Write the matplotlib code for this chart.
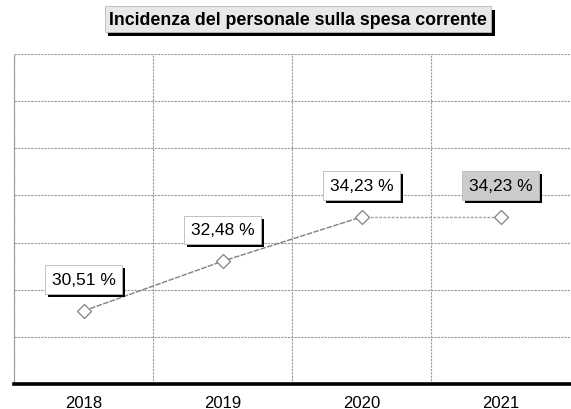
import matplotlib
matplotlib.use("Agg")
import matplotlib.pyplot as plt
import matplotlib.patheffects as pe
import numpy as np

plt.rcParams['font.family'] = ['Liberation Sans', 'DejaVu Sans']

# Dati
anni = ['2018', '2019', '2020', '2021']
incidenza = [30.51, 32.48, 34.23, 34.23]
etichette = ['30,51 %', '32,48 %', '34,23 %', '34,23 %']
titolo = 'Incidenza del personale sulla spesa corrente'

fig = plt.figure(figsize=(5.71, 4.10), dpi=100)
ax = fig.add_axes([14 / 571, 1 - 385 / 410, 556 / 571, 330 / 410])

x = np.arange(len(anni))
ymin, ymax = 27.62, 40.68
ax.set_xlim(-0.5, len(anni) - 0.5)
ax.set_ylim(ymin, ymax)

# Griglia
grid_style = dict(color='#9a9a9a', lw=0.8, ls=(0, (2, 1)))
for yv in np.linspace(ymin, ymax, 8)[1:]:
    ax.axhline(yv, **grid_style, zorder=1)
for xv in np.arange(-0.5, len(anni) - 0.5, 1.0):
    ax.axvline(xv, **grid_style, zorder=1)

# Serie
ax.plot(x[:3], incidenza[:3], color='#808080', lw=1.0, ls=(0, (4, 1)), zorder=2)
ax.plot(x[2:], incidenza[2:], color='#a0a0a0', lw=1.0, ls=(0, (2, 1)), zorder=2)
ax.plot(x, incidenza, ls='none', marker='D', ms=7, mfc='white',
        mec='#808080', mew=0.9, zorder=3)

shadow = [pe.SimplePatchShadow(offset=(2.2, -2.2), shadow_rgbFace='black', alpha=1.0),
          pe.Normal()]

# Etichette dei valori con ombra
for i, (xi, yi, lab) in enumerate(zip(x, incidenza, etichette)):
    face = '#cccccc' if i == 3 else 'white'
    t = ax.annotate(lab, (xi, yi), xytext=(0, 22.5), textcoords='offset points',
                    ha='center', va='center', fontsize=12.5, color='black',
                    bbox=dict(boxstyle='square,pad=0.4', fc=face, ec='#b8b8b8', lw=0.6),
                    zorder=5)
    t.get_bbox_patch().set_path_effects(shadow)

# Assi
ax.set_xticks(x)
ax.set_xticklabels(anni, fontsize=12)
ax.tick_params(axis='x', length=0, pad=8)
ax.set_yticks([])
ax.spines['bottom'].set_linewidth(2.6)
ax.spines['bottom'].set_color('black')
ax.spines['right'].set_visible(False)
ax.spines['top'].set_visible(False)
ax.spines['left'].set_color('#9a9a9a')
ax.spines['left'].set_linewidth(0.8)
ax.spines['left'].set_linestyle((0, (2, 1)))

# Titolo con ombra
tt = fig.text(0.522, 0.951, titolo, ha='center', va='center',
              fontsize=12.8, fontweight='bold', color='black',
              bbox=dict(boxstyle='square,pad=0.25', fc='#e8e8e8', ec='#b8b8b8', lw=0.6))
tt.get_bbox_patch().set_path_effects(
    [pe.SimplePatchShadow(offset=(2.5, -2.5), shadow_rgbFace='black', alpha=1.0), pe.Normal()])

fig.savefig('out.png', dpi=100)
